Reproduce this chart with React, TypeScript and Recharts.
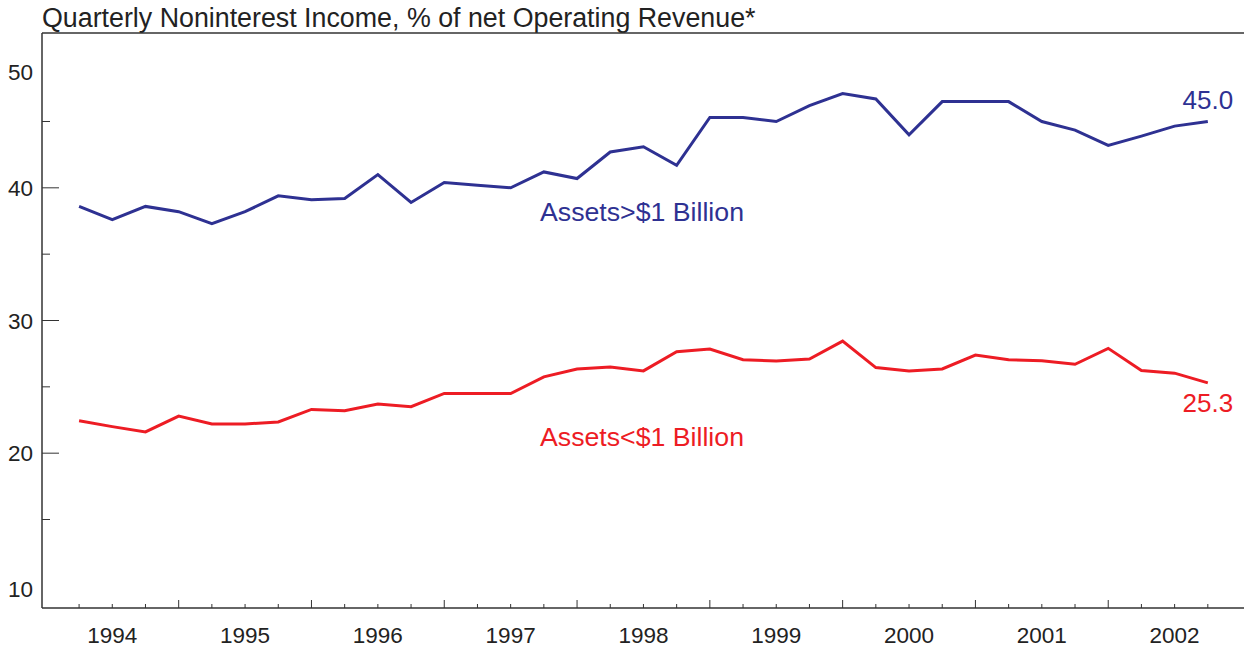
import React from "react";
import {
  LineChart,
  Line,
  XAxis,
  YAxis,
  ReferenceLine,
  Customized,
} from "recharts";

// quarters 1994Q1 .. 2002Q3
const quarters = [
  "1994Q1", "1994Q2", "1994Q3", "1994Q4",
  "1995Q1", "1995Q2", "1995Q3", "1995Q4",
  "1996Q1", "1996Q2", "1996Q3", "1996Q4",
  "1997Q1", "1997Q2", "1997Q3", "1997Q4",
  "1998Q1", "1998Q2", "1998Q3", "1998Q4",
  "1999Q1", "1999Q2", "1999Q3", "1999Q4",
  "2000Q1", "2000Q2", "2000Q3", "2000Q4",
  "2001Q1", "2001Q2", "2001Q3", "2001Q4",
  "2002Q1", "2002Q2", "2002Q3",
];

// Assets > $1 Billion
const bigBanks = [
  38.6, 37.6, 38.6, 38.2, 37.3, 38.2, 39.4, 39.1, 39.2, 41.0,
  38.9, 40.4, 40.2, 40.0, 41.2, 40.7, 42.7, 43.1, 41.7, 45.3,
  45.3, 45.0, 46.2, 47.1, 46.7, 44.0, 46.5, 46.5, 46.5, 45.0,
  44.35, 43.2, 43.9, 44.65, 45.0,
];

// Assets < $1 Billion
const smallBanks = [
  22.44, 22.0, 21.6, 22.8, 22.2, 22.2, 22.35, 23.3, 23.2, 23.7,
  23.5, 24.5, 24.5, 24.5, 25.75, 26.35, 26.5, 26.2, 27.65, 27.85,
  27.05, 26.95, 27.1, 28.45, 26.45, 26.2, 26.35, 27.4, 27.05, 26.96,
  26.7, 27.9, 26.23, 26.03, 25.3,
];

const yearLabels = ["1994", "1995", "1996", "1997", "1998", "1999", "2000", "2001", "2002"];
const yTicks = [10, 15, 20, 25, 30, 35, 40, 45, 50];
const yLabels = [10, 20, 30, 40, 50];

const BLUE = "#2e3192";
const RED = "#ed1c24";
const AXIS = "#333333";
const FONT = "'Liberation Sans', Arial, Helvetica, sans-serif";

const data = quarters.map((q, i) => ({
  i,
  q,
  big: bigBanks[i],
  small: smallBanks[i],
}));

const xTicks = quarters.map((_, i) => i);

const XTick = (props: any) => {
  const { x, y, payload } = props;
  const i = payload.value as number;
  const major = i % 4 === 3;
  const label = i % 4 === 1 ? yearLabels[(i - 1) / 4] : null;
  return (
    <g>
      <line x1={x} x2={x} y1={y} y2={y - (major ? 8 : 4)} stroke={AXIS} strokeWidth={1} />
      {label && (
        <text x={x} y={y + 35} textAnchor="middle" fontSize={22.5} fill="#222" fontFamily={FONT}>
          {label}
        </text>
      )}
    </g>
  );
};

const YTick = (props: any) => {
  const { x, y, payload } = props;
  const v = payload.value as number;
  const major = v % 10 === 0;
  const showLine = v !== 10 && v !== 50;
  // the top label sits lower than its value in the original
  const shift = v === 50 ? 17 : v === 10 ? 3 : 0;
  return (
    <g>
      {showLine && (
        <line x1={x} x2={x + (major ? 17 : 8)} y1={y} y2={y} stroke={AXIS} strokeWidth={1} />
      )}
      {yLabels.includes(v) && (
        <text x={x - 9} y={y + shift + 8} textAnchor="end" fontSize={22.5} fill="#222" fontFamily={FONT}>
          {v}
        </text>
      )}
    </g>
  );
};

const endLabel = (color: string, dy: number) => (props: any) => {
  const { x, y, index, value } = props;
  if (index !== quarters.length - 1) return <g />;
  return (
    <text x={x} y={y + dy} textAnchor="middle" fontSize={26} fill={color} fontFamily={FONT}>
      {Number(value).toFixed(1)}
    </text>
  );
};

const Annotations = () => (
  <g fontFamily={FONT}>
    <text x={42} y={27} fontSize={26.8} fill="#222">
      {"Quarterly Noninterest Income, % of net Operating Revenue*"}
    </text>
    <text x={540} y={221} fontSize={26.7} fill={BLUE}>
      {"Assets>$1 Billion"}
    </text>
    <text x={540} y={446} fontSize={26.7} fill={RED}>
      {"Assets<$1 Billion"}
    </text>
  </g>
);

export default function App() {
  return (
    <div style={{ position: "absolute", left: 0, top: 0, background: "#fff" }}>
      <LineChart
        width={1244}
        height={648}
        data={data}
        margin={{ top: 33, right: 0, bottom: 0, left: 0 }}
      >
        <XAxis
          dataKey="i"
          type="number"
          domain={[-1.117, 35.09]}
          ticks={xTicks}
          interval={0}
          allowDataOverflow
          height={40}
          tickLine={false}
          tickSize={0}
          tickMargin={0}
          axisLine={{ stroke: AXIS, strokeWidth: 1.5 }}
          tick={<XTick />}
        />
        <YAxis
          type="number"
          domain={[8.33, 51.67]}
          ticks={yTicks}
          interval={0}
          allowDataOverflow
          width={42}
          tickLine={false}
          tickSize={0}
          tickMargin={0}
          axisLine={{ stroke: AXIS, strokeWidth: 1.5 }}
          tick={<YTick />}
        />
        <ReferenceLine y={51.67} stroke={AXIS} strokeWidth={1.5} ifOverflow="extendDomain" />
        <Line
          type="linear"
          dataKey="big"
          stroke={BLUE}
          strokeWidth={3}
          dot={false}
          isAnimationActive={false}
          label={endLabel(BLUE, -12)}
        />
        <Line
          type="linear"
          dataKey="small"
          stroke={RED}
          strokeWidth={3}
          dot={false}
          isAnimationActive={false}
          label={endLabel(RED, 29)}
        />
        <Customized component={<Annotations />} />
      </LineChart>
    </div>
  );
}
